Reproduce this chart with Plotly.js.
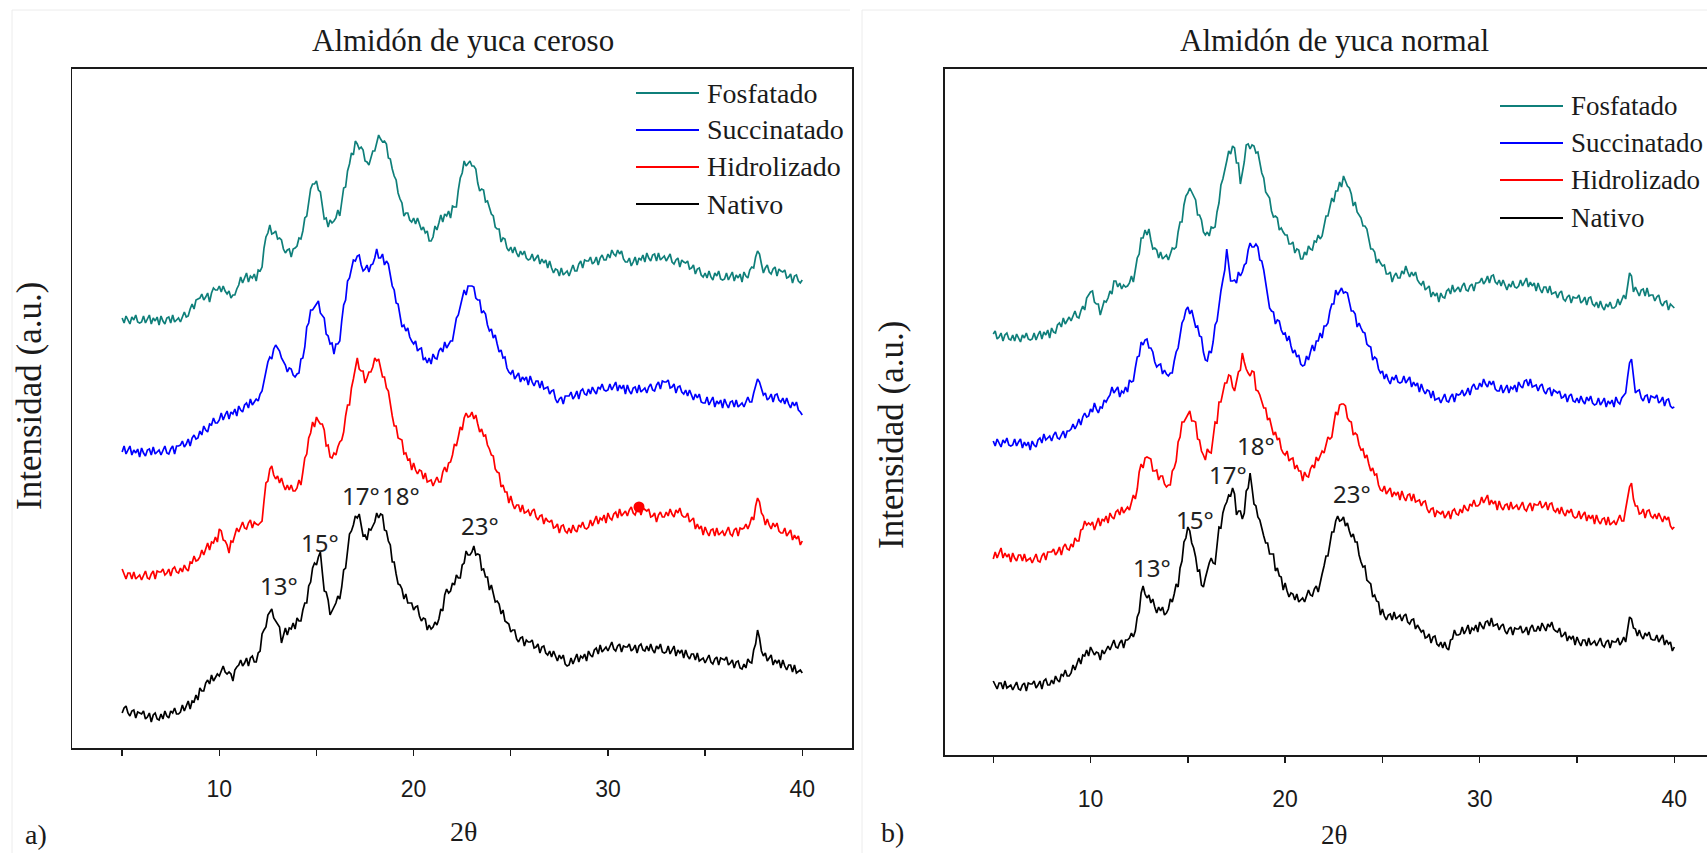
<!DOCTYPE html>
<html>
<head>
<meta charset="utf-8">
<script src="https://cdn.plot.ly/plotly-3.0.1.min.js"></script>
<style>
  html, body { margin: 0; padding: 0; background: #ffffff; }
  #chart { width: 1707px; height: 853px; }
</style>
</head>
<body>
<div id="chart"></div>
<script>
// XRD patterns, 2θ sampled from 5° to 40° every 0.1°; intensities in a.u. (curves already stacked)
const twoThetaStart = 5;
const twoThetaStep = 0.1;

const seriesNames = ['Fosfatado', 'Succinatado', 'Hidrolizado', 'Nativo'];
const seriesColors = ['#0f7f7a', '#0000ff', '#ff0000', '#000000'];
const panelTitles = ['Almidón de yuca ceroso', 'Almidón de yuca normal'];
const panelTags = ['a)', 'b)'];
const peakLabels = ['13°', '15°', '17°', '18°', '23°'];
const tickValues = [5, 10, 15, 20, 25, 30, 35, 40];
const tickLabels = ['', '10', '', '20', '', '30', '', '40'];

// Waxy cassava starch
const cerosoFosfatado = [
430,425,432,427,424,431,428,433,426,425,
426,432,425,429,433,424,430,427,431,423,
432,427,424,430,431,425,433,426,428,430,
426,432,436,431,432,439,444,439,448,449,
450,454,448,451,455,446,455,460,458,458,
462,456,462,457,454,457,450,453,453,459,
463,471,465,470,475,466,472,470,474,467,
478,477,481,500,511,515,523,514,515,517,
509,510,508,499,495,498,499,491,499,500,
502,510,509,517,530,532,548,559,564,564,
567,558,556,540,529,530,521,528,525,527,
530,538,532,546,560,561,577,584,595,593,
607,604,599,601,598,587,586,583,590,597,
597,606,613,609,606,607,604,590,589,579,
572,568,555,549,545,532,535,535,528,526,
530,524,530,524,518,521,515,517,507,507,
511,522,518,525,533,526,534,532,537,530,
542,541,541,558,570,575,587,582,585,587,
582,582,579,565,557,559,558,546,547,539,
534,532,521,519,519,506,510,509,500,497,
501,495,501,495,491,497,493,497,490,488,
489,494,487,490,493,484,489,485,488,480,
487,480,475,479,478,472,480,473,475,477,
472,478,483,477,477,484,487,480,488,487,
487,491,484,486,491,483,490,493,488,488,
494,490,498,494,492,498,494,497,489,486,
486,490,482,486,491,483,490,488,493,486,
495,490,487,493,494,487,495,488,490,492,
487,491,494,486,484,488,490,481,488,486,
485,487,479,480,483,474,479,480,473,471,
475,470,477,471,468,475,472,477,469,468,
469,475,468,472,476,467,473,470,474,466,
476,472,470,478,481,480,491,497,494,484,
475,480,483,476,474,479,481,472,479,477,
476,478,470,471,474,465,472,473,467,465,
468];

const cerosoSuccinatado = [
296,302,294,298,302,293,298,295,299,291,
300,295,292,298,299,293,301,294,296,298,
293,298,302,295,294,299,302,294,302,302,
303,307,301,304,309,302,310,313,309,310,
317,313,322,318,316,324,323,330,325,325,
328,335,328,333,337,329,336,334,339,332,
342,338,336,343,345,340,349,343,346,349,
347,354,357,367,374,386,391,389,399,403,
400,397,390,387,383,376,380,379,373,371,
374,375,389,390,401,421,425,438,438,441,
444,447,435,432,430,414,412,404,405,394,
404,404,407,427,443,448,467,470,481,488,
487,492,493,483,477,479,483,476,483,484,
490,499,490,490,494,483,487,484,473,462,
458,445,444,431,421,423,417,420,411,407,
404,407,397,399,400,388,390,385,390,384,
394,390,389,397,400,396,406,400,403,407,
407,420,430,433,441,452,458,453,462,462,
462,461,450,448,448,435,437,434,423,417,
419,410,413,404,396,398,390,391,380,376,
374,378,369,372,375,366,371,368,371,363,
372,366,362,367,367,360,367,359,360,361,
354,357,358,349,345,349,351,344,352,352,
352,356,349,352,357,349,357,359,354,353,
359,354,361,357,354,361,359,364,358,357,
358,364,358,362,366,357,363,359,363,354,
363,357,354,360,361,355,363,356,358,360,
355,361,364,358,357,363,366,359,367,366,
366,368,360,361,364,355,361,362,356,354,
358,352,358,352,348,354,350,354,346,345,
345,351,343,347,351,341,347,344,348,340,
349,344,340,346,347,341,348,341,343,345,
341,347,351,346,346,355,362,369,366,359,
353,355,348,350,354,346,353,354,348,346,
350,344,350,344,340,346,342,346,338,336,
333];

const cerosoHidrolizado = [
179,173,169,175,175,169,176,169,171,173,
168,173,177,170,169,174,177,169,177,176,
176,179,173,175,179,172,179,181,176,175,
180,176,183,179,177,186,185,192,187,188,
191,198,193,199,205,198,206,205,211,206,
219,217,208,207,203,195,207,206,214,220,
216,222,226,220,219,225,228,220,226,224,
223,225,227,247,265,267,279,282,273,269,
272,265,270,263,258,263,258,263,257,257,
260,268,263,276,290,294,310,315,326,321,
331,327,324,324,318,302,303,291,290,295,
293,301,306,308,316,332,343,343,360,369,
381,390,379,377,377,365,370,376,376,381,
390,387,389,379,371,371,360,357,343,332,
322,322,310,309,308,294,295,288,289,278,
285,278,274,278,277,269,275,266,267,268,
262,267,271,266,266,276,281,276,285,286,
293,304,302,311,321,318,330,335,331,332,
336,329,333,324,316,319,312,313,303,299,
293,292,279,276,275,261,263,256,256,245,
252,244,239,243,243,236,243,235,236,238,
232,237,239,231,228,232,233,224,230,227,
226,228,220,221,224,215,222,223,217,215,
220,215,223,218,216,223,221,226,220,219,
221,228,222,227,232,224,230,228,233,225,
235,230,228,234,236,230,239,232,235,237,
232,238,241,235,233,239,241,233,240,238,
237,239,231,232,235,226,233,236,231,231,
236,232,239,234,231,238,235,240,233,231,
231,235,226,228,230,219,224,219,222,213,
221,216,212,218,219,212,220,213,215,217,
212,217,221,214,212,218,220,212,220,219,
220,224,219,224,231,228,242,250,246,235,
232,223,229,223,219,225,221,225,217,215,
215,220,212,215,218,208,213,209,212,203,
207];

const cerosoNativo = [
35,40,42,35,32,37,38,30,36,35,
34,37,29,31,35,26,33,35,29,28,
34,29,37,32,30,37,35,40,34,34,
36,43,37,42,47,39,47,46,53,48,
60,57,57,65,68,64,73,67,70,74,
72,78,82,76,74,76,74,67,78,81,
83,88,82,85,90,82,90,92,86,86,
95,97,114,118,121,133,136,139,130,127,
125,121,105,112,120,113,120,119,125,119,
130,127,127,138,145,145,162,166,180,185,
183,191,196,176,157,156,148,133,137,141,
145,152,149,161,178,180,200,214,217,223,
232,230,234,223,212,213,208,219,218,222,
226,235,230,234,233,218,217,207,203,186,
186,174,164,163,159,149,154,145,145,145,
138,141,142,132,127,130,129,118,123,119,
121,126,123,129,139,137,153,159,155,157,
165,163,173,170,170,183,185,197,193,193,
196,202,193,194,193,178,179,171,171,158,
163,154,146,147,144,134,138,127,125,124,
116,118,118,109,106,110,111,102,108,106,
106,108,100,101,104,95,101,102,95,93,
97,91,97,91,87,93,89,93,84,82,
83,90,84,89,94,86,92,90,94,87,
97,93,91,98,100,94,103,96,99,101,
97,102,106,99,97,102,104,96,102,101,
101,104,97,99,103,95,102,104,98,97,
102,97,104,98,95,102,99,104,96,95,
96,102,94,98,102,92,98,95,98,90,
98,92,89,94,94,88,95,87,89,90,
85,90,93,86,84,89,91,83,90,89,
88,91,83,85,88,80,86,87,80,79,
84,80,89,86,85,98,104,118,110,97,
92,95,87,90,93,83,88,85,88,80,
88,82,78,83,83,76,83,75,77,78,
75];

// Normal cassava starch
const normalFosfatado = [
421,424,416,418,422,414,420,422,416,415,
420,414,421,416,413,420,417,422,416,415,
416,422,415,420,424,416,423,420,425,417,
427,423,422,430,432,428,437,431,435,438,
434,440,444,438,437,444,449,445,457,460,
463,464,453,451,451,440,448,454,453,457,
464,461,474,474,468,472,466,470,468,469,
472,479,473,486,497,501,517,517,525,520,
526,515,506,507,505,497,503,496,498,500,
495,500,507,506,508,523,533,533,550,559,
562,567,562,559,555,540,540,535,523,520,
523,519,528,527,528,543,552,570,576,587,
594,604,601,609,607,592,592,571,581,593,
610,611,606,610,609,602,603,590,582,577,
563,560,557,544,538,539,537,525,527,523,
520,520,511,511,513,502,506,505,496,496,
503,500,509,506,505,514,513,520,516,519,
528,539,539,549,557,553,564,564,573,568,
579,574,569,567,561,549,553,543,540,537,
529,529,526,514,506,506,503,492,496,492,
489,490,481,481,483,473,479,482,477,477,
484,481,489,483,478,483,479,483,475,472,
470,474,465,467,469,458,463,459,462,453,
462,458,457,464,466,461,470,463,466,468,
463,469,472,465,464,469,471,464,472,472,
473,477,471,474,479,472,479,480,473,471,
475,469,475,469,465,471,468,474,468,467,
469,475,469,473,477,468,473,469,472,464,
472,466,462,468,468,462,469,461,462,463,
457,462,464,456,454,458,460,452,458,457,
457,460,452,454,458,450,457,458,451,449,
453,447,454,448,445,451,448,453,447,447,
449,456,450,455,460,456,472,482,479,463,
468,463,459,465,466,459,467,459,460,460,
454,458,460,452,449,453,454,445,451,449,
447];

const normalSuccinatado = [
314,309,316,311,308,315,312,317,310,309,
310,316,309,313,316,307,313,309,313,305,
314,310,308,315,317,312,321,315,317,319,
314,320,323,317,316,321,324,317,324,324,
326,331,326,330,336,330,338,342,338,339,
346,343,352,346,342,348,347,355,353,357,
360,368,362,365,368,358,364,362,368,363,
375,373,374,387,398,399,413,410,415,416,
407,407,403,393,388,390,391,381,385,381,
379,382,382,394,403,407,422,432,436,445,
448,441,445,437,428,429,419,418,403,395,
394,404,402,413,430,434,452,464,475,485,
506,489,474,474,475,472,483,479,483,490,
492,505,512,508,508,511,508,495,494,485,
471,462,447,444,443,431,435,434,425,421,
422,414,419,409,402,405,398,400,391,389,
390,399,395,403,410,404,414,414,422,417,
429,429,432,444,451,451,465,460,464,467,
462,463,462,451,444,444,441,428,432,427,
423,422,411,409,408,395,398,396,386,382,
384,376,381,375,371,378,375,380,373,372,
373,379,372,375,378,368,373,369,372,363,
371,365,361,365,364,357,364,355,356,357,
352,357,361,354,353,358,361,353,361,360,
361,365,359,362,367,360,368,371,366,366,
372,368,376,371,368,374,370,374,366,364,
364,370,362,366,370,362,368,366,370,363,
373,369,367,374,375,369,376,368,369,370,
364,369,371,364,361,366,367,359,365,363,
362,364,357,358,361,353,359,361,354,353,
357,352,359,354,351,358,354,359,352,350,
351,357,350,353,357,348,354,351,355,348,
358,353,351,357,359,362,378,392,396,376,
362,364,365,357,354,359,360,352,359,358,
357,360,352,354,358,349,355,356,349,347,
348];

const normalHidrolizado = [
196,203,197,202,207,197,202,198,201,193,
202,197,194,200,200,194,201,194,196,197,
192,197,201,194,193,199,202,195,203,203,
203,206,200,203,208,200,208,211,206,205,
211,208,217,214,214,225,226,234,230,232,
230,233,225,231,237,229,236,234,239,232,
242,238,236,243,245,240,248,242,245,248,
245,253,260,256,266,283,291,287,297,298,
297,296,284,284,285,275,279,279,271,268,
270,270,284,287,294,313,318,333,333,337,
340,344,334,334,333,316,315,304,300,295,
306,303,302,320,333,332,353,353,362,372,
372,380,379,368,364,373,383,385,402,393,
386,382,379,384,383,365,364,360,353,347,
347,335,337,327,320,323,315,317,306,302,
300,304,294,296,297,286,290,284,284,274,
283,279,278,286,290,287,298,294,299,304,
302,311,318,316,318,331,343,340,350,351,
351,349,337,334,333,320,322,320,310,305,
306,297,300,291,284,287,280,281,270,265,
264,269,261,264,267,258,263,260,263,255,
264,258,254,260,261,254,261,253,254,255,
249,253,254,246,242,246,247,238,244,242,
241,244,237,240,244,236,244,246,241,240,
246,242,250,246,244,251,249,255,249,249,
251,258,252,256,260,250,255,251,254,245,
254,248,245,250,251,245,253,246,248,250,
245,250,253,246,244,249,252,244,251,250,
250,254,247,249,253,245,251,252,245,243,
247,241,248,242,239,245,242,246,239,237,
238,244,236,240,243,234,240,236,240,231,
240,234,231,236,237,230,238,230,232,234,
230,236,240,234,234,246,259,268,272,256,
249,249,241,242,246,237,244,245,239,237,
241,236,242,237,233,239,235,238,229,226,
228];

const normalNativo = [
74,69,66,72,72,66,74,67,69,70,
65,70,73,66,65,70,72,64,72,71,
71,74,67,70,74,66,74,76,70,70,
75,71,79,75,73,81,79,85,79,79,
82,90,85,91,97,91,100,99,105,99,
108,104,100,103,102,95,105,101,105,109,
105,111,115,108,107,112,115,107,115,115,
117,122,118,124,138,143,162,169,161,157,
160,152,156,148,142,148,144,148,140,142,
146,156,153,161,171,168,187,194,213,217,
228,224,212,207,198,184,185,170,168,177,
185,192,197,192,191,211,228,227,242,249,
253,260,259,267,261,240,244,244,236,242,
264,267,282,267,251,249,238,235,226,219,
212,212,201,201,201,184,187,179,178,165,
172,164,158,162,161,155,161,153,155,157,
153,160,165,160,159,166,169,163,174,181,
189,199,199,211,223,223,234,239,234,235,
238,229,232,224,218,221,213,213,200,193,
188,189,175,173,171,158,160,154,153,140,
146,139,135,140,141,135,143,136,138,140,
134,139,141,133,131,135,136,126,130,126,
123,125,117,118,121,112,118,119,111,109,
113,107,113,107,105,115,116,125,120,120,
121,128,121,125,130,121,127,125,130,123,
133,129,126,133,134,129,137,129,130,131,
125,129,131,124,121,126,128,120,127,126,
126,129,122,124,128,120,127,130,124,124,
129,124,132,127,124,131,128,133,126,124,
123,127,118,120,123,114,119,116,119,110,
118,113,109,115,115,109,117,110,112,114,
109,114,117,110,108,113,115,107,114,113,
113,117,110,113,118,113,127,138,136,127,
126,119,125,119,116,122,119,123,116,115,
115,120,113,116,120,110,115,111,113,104,
108];

// A single marked point sits on the hydrolysed waxy curve
const markedTwoTheta = 31.6;

// ---------- drawing ----------
const FIG_W = 1707, FIG_H = 853;
const paperX = p => p / FIG_W;
const paperY = p => 1 - p / FIG_H;

const SERIF = 'Liberation Serif, Times New Roman, serif';
const SANS = 'Liberation Sans Narrow, Arial Narrow, Liberation Sans, Arial, sans-serif';
const LABEL_SANS = 'Noto Sans, Open Sans, sans-serif';
const INK = '#1a1a1a';

const panels = [
  { data: [cerosoFosfatado, cerosoSuccinatado, cerosoHidrolizado, cerosoNativo], xa: 'x', ya: 'y' },
  { data: [normalFosfatado, normalSuccinatado, normalHidrolizado, normalNativo], xa: 'x2', ya: 'y2' }
];

const traces = [];
panels.forEach(p => {
  p.data.forEach((vals, i) => {
    traces.push({
      type: 'scatter', mode: 'lines',
      x0: twoThetaStart, dx: twoThetaStep, y: vals,
      xaxis: p.xa, yaxis: p.ya,
      name: seriesNames[i],
      line: { color: seriesColors[i], width: 1.7 },
      hoverinfo: 'skip', showlegend: false
    });
  });
});

const markIdx = Math.round((markedTwoTheta - twoThetaStart) / twoThetaStep);
traces.push({
  type: 'scatter', mode: 'markers',
  x: [markedTwoTheta], y: [cerosoHidrolizado[markIdx]],
  xaxis: 'x', yaxis: 'y',
  marker: { color: seriesColors[2], size: 11 },
  hoverinfo: 'skip', showlegend: false
});

function xAxis(domain, range, anchor, standoff) {
  return {
    domain, range, anchor,
    showline: true, mirror: true, linecolor: INK, linewidth: 1.7,
    ticks: 'outside', ticklen: 6, tickwidth: 1.4, tickcolor: INK,
    tickmode: 'array', tickvals: tickValues, ticktext: tickLabels,
    tickfont: { family: SANS, size: 23, color: INK },
    ticklabelstandoff: standoff,
    showgrid: false, zeroline: false, fixedrange: true
  };
}
function yAxis(domain, range, anchor, mirror) {
  return {
    domain, range, anchor,
    showline: true, mirror, linecolor: INK, linewidth: 1.7,
    ticks: '', showticklabels: false,
    showgrid: false, zeroline: false, fixedrange: true
  };
}

const annotations = [];
const shapes = [];
function paperText(text, x, y, size, family, extra) {
  annotations.push(Object.assign({
    text, xref: 'paper', yref: 'paper', x: paperX(x), y: paperY(y),
    xanchor: 'center', yanchor: 'middle', showarrow: false,
    font: { family, size, color: INK }
  }, extra || {}));
}

// panel titles, axis titles, tags
paperText(panelTitles[0], 463, 40, 31, SERIF);
paperText(panelTitles[1], 1334, 40, 31, SERIF);
paperText('2θ', 463, 831, 28, SERIF);
paperText('2θ', 1334, 835, 27, SERIF);
paperText('Intensidad (a.u.)', 29, 396, 35, SERIF, { textangle: -90 });
paperText('Intensidad (a.u.)', 891, 435, 35, SERIF, { textangle: -90 });
paperText(panelTags[0], 36, 834, 28, SERIF);
paperText(panelTags[1], 892, 832, 28, SERIF);

// legends drawn as line samples with labels
const legendSpecs = [
  { lineX0: 636, lineX1: 699, textX: 705, rows: [93, 130, 167, 204], size: 28 },
  { lineX0: 1500, lineX1: 1563, textX: 1569, rows: [106, 143, 180, 218], size: 27 }
];
legendSpecs.forEach(L => {
  seriesNames.forEach((name, i) => {
    shapes.push({
      type: 'line', xref: 'paper', yref: 'paper',
      x0: paperX(L.lineX0), x1: paperX(L.lineX1),
      y0: paperY(L.rows[i]), y1: paperY(L.rows[i]),
      line: { color: seriesColors[i], width: 2 }
    });
    paperText(name, L.textX, L.rows[i], L.size, SERIF, { xanchor: 'left' });
  });
});

// peak labels on the native curves
const peakSpots = [
  { xref: 'x', yref: 'y', at: [[13.05, 163], [15.2, 206], [17.3, 253], [19.35, 253], [23.4, 223]] },
  { xref: 'x2', yref: 'y2', at: [[13.15, 188], [15.36, 236], [17.08, 281], [18.5, 310], [23.45, 262]] }
];
peakSpots.forEach(s => {
  s.at.forEach((pos, i) => {
    annotations.push({
      text: peakLabels[i], xref: s.xref, yref: s.yref, x: pos[0], y: pos[1],
      xanchor: 'center', yanchor: 'middle', showarrow: false,
      font: { family: LABEL_SANS, size: 24, color: '#222' }
    });
  });
});

// faint frame lines around each panel
[[12, 10, 12, 853], [12, 10, 850, 10], [862, 10, 862, 853], [862, 10, 1707, 10]].forEach(l => {
  shapes.push({
    type: 'line', xref: 'paper', yref: 'paper',
    x0: paperX(l[0]), y0: paperY(l[1]), x1: paperX(l[2]), y1: paperY(l[3]),
    line: { color: '#ececec', width: 1 }, layer: 'below'
  });
});

const layout = {
  width: FIG_W, height: FIG_H,
  margin: { l: 0, r: 0, t: 0, b: 0, pad: 0 },
  paper_bgcolor: '#ffffff', plot_bgcolor: '#ffffff',
  showlegend: false,
  xaxis: xAxis([paperX(72.4), paperX(852)], [2.44, 42.56], 'y', 14),
  yaxis: yAxis([1 - 748 / FIG_H, 1 - 69 / FIG_H], [0, 679], 'x', true),
  xaxis2: xAxis([paperX(944.6), 1], [2.5, 41.68], 'y2', 17),
  yaxis2: yAxis([1 - 755 / FIG_H, 1 - 69 / FIG_H], [0, 686], 'x2', false),
  annotations, shapes
};

Plotly.newPlot('chart', traces, layout, { displayModeBar: false, staticPlot: true });
</script>
</body>
</html>
